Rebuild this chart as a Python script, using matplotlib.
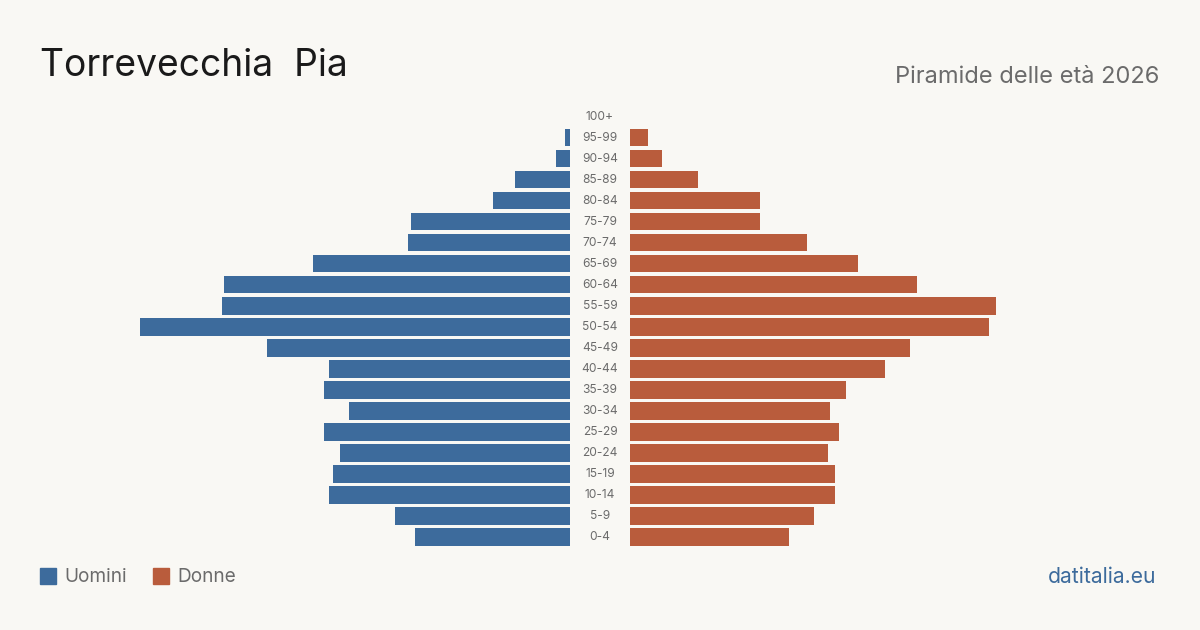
import matplotlib
matplotlib.use("Agg")
import matplotlib.pyplot as plt
from matplotlib.patches import Rectangle

age_groups = ["0-4", "5-9", "10-14", "15-19", "20-24", "25-29", "30-34", "35-39",
              "40-44", "45-49", "50-54", "55-59", "60-64", "65-69", "70-74", "75-79",
              "80-84", "85-89", "90-94", "95-99", "100+"]
men = [155, 175, 241, 237, 230, 246, 221, 246, 241, 303, 430, 348, 346, 257, 162, 159,
       77, 55, 14, 5, 0]
women = [159, 184, 205, 205, 198, 209, 200, 216, 255, 280, 359, 366, 287, 228, 177, 130,
         130, 68, 32, 18, 0]

title = "Torrevecchia  Pia"
subtitle = "Piramide delle età 2026"
legend_labels = ["Uomini", "Donne"]
source = "datitalia.eu"

BG = "#f9f8f4"
BLUE = "#3d6b9c"
ORANGE = "#b95c3c"
FONT = ["Inter", "DejaVu Sans"]

fig = plt.figure(figsize=(12, 6.3), dpi=100, facecolor=BG)
ax = fig.add_axes([0, 0, 1, 1])
ax.set_facecolor(BG)
ax.set_xlim(-600, 600)
ax.set_ylim(-4.4286, 25.571)
ax.axis("off")

gap = 30
ys = list(range(len(age_groups)))
ax.barh(ys, [-m for m in men], left=-gap, height=0.81, color=BLUE)
ax.barh(ys, women, left=gap, height=0.81, color=ORANGE)
for y, lab in zip(ys, age_groups):
    ax.text(0, y, lab, ha="center", va="center", fontsize=8.6, color="#6b6b6b", family=FONT)

fig.text(40 / 1200, 1 - 66 / 630, title, fontsize=26.8, color="#1a1a1a", family=FONT,
         ha="left", va="center")
fig.text(1159 / 1200, 1 - 77 / 630, subtitle, fontsize=17, color="#6b6b6b", family=FONT,
         ha="right", va="center")

# legend
for x0, lab, col in [(40, legend_labels[0], BLUE), (153, legend_labels[1], ORANGE)]:
    fig.patches.append(Rectangle((x0 / 1200, 1 - 584 / 630), 16 / 1200, 16 / 630,
                                 transform=fig.transFigure, color=col))
    fig.text((x0 + 24) / 1200, 1 - 577 / 630, lab, fontsize=13.7, color="#6b6b6b",
             family=FONT, ha="left", va="center")

fig.text(1156 / 1200, 1 - 577 / 630, source, fontsize=15.2, color=BLUE, family=FONT,
         ha="right", va="center")

fig.savefig("out.png", dpi=100, facecolor=BG)
